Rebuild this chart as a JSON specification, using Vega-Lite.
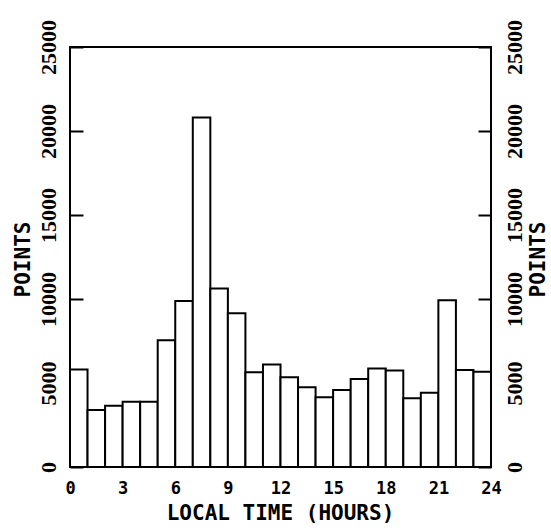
{
  "$schema": "https://vega.github.io/schema/vega-lite/v6.json",
  "width": 421,
  "height": 420,
  "autosize": "none",
  "padding": {"left": 70, "top": 47, "right": 60, "bottom": 63},
  "background": "white",
  "config": {
    "view": {"stroke": "black", "strokeWidth": 2},
    "axis": {
      "labelFont": "DejaVu Sans Mono",
      "titleFont": "DejaVu Sans Mono",
      "labelFontWeight": "bold",
      "titleFontWeight": "bold",
      "labelColor": "black",
      "titleColor": "black",
      "grid": false,
      "domain": false,
      "tickColor": "black",
      "tickWidth": 2
    }
  },
  "data": {
    "values": [
      {"hour_start": 0, "hour_end": 1, "points": 5800},
      {"hour_start": 1, "hour_end": 2, "points": 3400},
      {"hour_start": 2, "hour_end": 3, "points": 3650},
      {"hour_start": 3, "hour_end": 4, "points": 3880},
      {"hour_start": 4, "hour_end": 5, "points": 3880},
      {"hour_start": 5, "hour_end": 6, "points": 7550},
      {"hour_start": 6, "hour_end": 7, "points": 9880},
      {"hour_start": 7, "hour_end": 8, "points": 20800},
      {"hour_start": 8, "hour_end": 9, "points": 10620},
      {"hour_start": 9, "hour_end": 10, "points": 9150},
      {"hour_start": 10, "hour_end": 11, "points": 5640},
      {"hour_start": 11, "hour_end": 12, "points": 6100},
      {"hour_start": 12, "hour_end": 13, "points": 5340},
      {"hour_start": 13, "hour_end": 14, "points": 4740},
      {"hour_start": 14, "hour_end": 15, "points": 4150},
      {"hour_start": 15, "hour_end": 16, "points": 4580},
      {"hour_start": 16, "hour_end": 17, "points": 5240},
      {"hour_start": 17, "hour_end": 18, "points": 5870},
      {"hour_start": 18, "hour_end": 19, "points": 5750},
      {"hour_start": 19, "hour_end": 20, "points": 4090},
      {"hour_start": 20, "hour_end": 21, "points": 4420},
      {"hour_start": 21, "hour_end": 22, "points": 9920},
      {"hour_start": 22, "hour_end": 23, "points": 5770},
      {"hour_start": 23, "hour_end": 24, "points": 5670}
    ]
  },
  "encoding": {
    "x": {
      "field": "hour_start",
      "type": "quantitative",
      "scale": {"domain": [0, 24], "nice": false, "zero": false},
      "axis": {
        "values": [0, 3, 6, 9, 12, 15, 18, 21, 24],
        "ticks": false,
        "labelPadding": 13,
        "labelFontSize": 17,
        "labelFlush": false,
        "title": "LOCAL TIME (HOURS)",
        "titleFontSize": 21,
        "titleX": 210,
        "titleY": 46,
        "titleBaseline": "middle",
        "titleAlign": "center"
      }
    },
    "x2": {"field": "hour_end"},
    "y2": {"datum": 0}
  },
  "layer": [
    {
      "mark": {"type": "bar", "fill": "white", "stroke": "black", "strokeWidth": 2},
      "encoding": {
        "y": {
          "field": "points",
          "type": "quantitative",
          "scale": {"domain": [0, 25000], "nice": false},
          "axis": {
            "orient": "left",
            "values": [0, 5000, 10000, 15000, 20000, 25000],
            "format": "d",
            "tickSize": -13,
            "labelPadding": 23,
            "labelAngle": 270,
            "labelAlign": "center",
            "labelBaseline": "bottom",
            "labelFont": "Liberation Sans Narrow",
            "labelFontSize": 22,
            "labelFlush": false,
            "title": "POINTS",
            "titleFontSize": 21,
            "titleAngle": 270,
            "titleX": -47,
            "titleY": 212,
            "titleAlign": "center",
            "titleBaseline": "middle"
          }
        }
      }
    },
    {
      "mark": {"type": "bar", "fillOpacity": 0, "strokeOpacity": 0},
      "encoding": {
        "y": {
          "field": "points",
          "type": "quantitative",
          "scale": {"domain": [0, 25000], "nice": false},
          "axis": {
            "orient": "right",
            "values": [0, 5000, 10000, 15000, 20000, 25000],
            "format": "d",
            "tickSize": -13,
            "labelPadding": 26,
            "labelAngle": 270,
            "labelAlign": "center",
            "labelBaseline": "top",
            "labelFont": "Liberation Sans Narrow",
            "labelFontSize": 22,
            "labelFlush": false,
            "title": "POINTS",
            "titleFontSize": 21,
            "titleAngle": 270,
            "titleX": 47,
            "titleY": 212,
            "titleAlign": "center",
            "titleBaseline": "middle"
          }
        }
      }
    }
  ],
  "resolve": {"scale": {"y": "independent"}, "axis": {"y": "independent"}}
}
